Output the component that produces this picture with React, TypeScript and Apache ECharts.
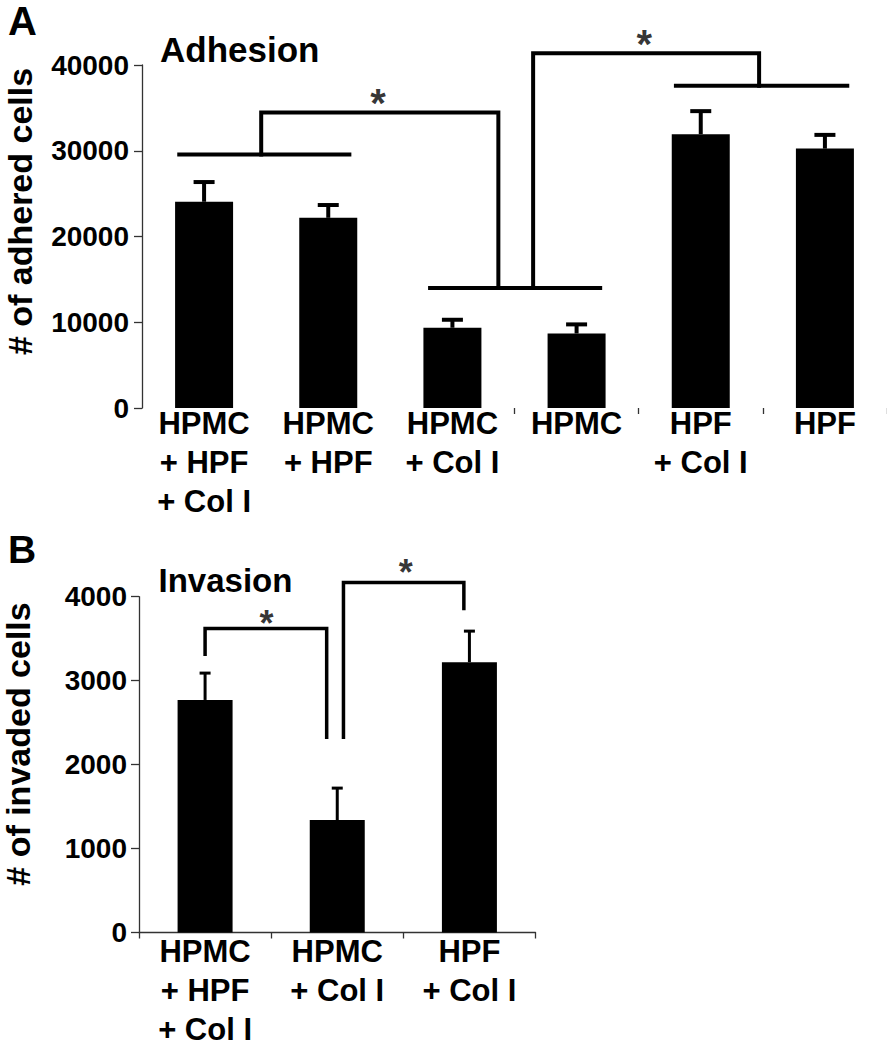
import React, { useEffect, useRef } from "react";
import * as echarts from "echarts";

// ---------- Panel A: Adhesion ----------
const adhesionCategories = [
  "HPMC\n+ HPF\n+ Col I",
  "HPMC\n+ HPF",
  "HPMC\n+ Col I",
  "HPMC",
  "HPF\n+ Col I",
  "HPF",
];
const adhesionMeans = [24050, 22180, 9360, 8690, 31930, 30250];
const adhesionErrorTops = [26350, 23670, 10290, 9750, 34620, 31850];
const adhesionTicks = [0, 10000, 20000, 30000, 40000];
// significance brackets: [category position, value]
const adhesionBrackets = [
  [[-0.2, 29550], [1.17, 29550]],
  [[0.46, 29550], [0.46, 34460], [2.37, 34460], [2.37, 14000]],
  [[1.82, 14000], [3.19, 14000]],
  [[2.65, 14000], [2.65, 41370], [4.47, 41370], [4.47, 37580]],
  [[3.8, 37580], [5.18, 37580]],
];
const adhesionStars = [[1.4, 36530], [3.545, 43350]];

// ---------- Panel B: Invasion ----------
const invasionCategories = ["HPMC\n+ HPF\n+ Col I", "HPMC\n+ Col I", "HPF\n+ Col I"];
const invasionMeans = [2770, 1340, 3220];
const invasionErrorTops = [3090, 1720, 3590];
const invasionTicks = [0, 1000, 2000, 3000, 4000];
const invasionBrackets = [
  [[0, 3315], [0, 3620], [0.92, 3620], [0.92, 2326]],
  [[1.047, 2326], [1.047, 4170], [1.958, 4170], [1.958, 3860]],
];
const invasionStars = [[0.465, 3770], [1.518, 4372]];

const SANS = "Liberation Sans, Arial, Helvetica, sans-serif";

function errorSeries(xIdx: number, yIdx: number, means: number[], tops: number[], cap: number, lw: number) {
  return {
    type: "custom",
    xAxisIndex: xIdx,
    yAxisIndex: yIdx,
    silent: true,
    z: 4,
    data: means.map((m, i) => [i, m, tops[i]]),
    encode: { x: 0, y: [1, 2] },
    renderItem: (_params: any, api: any) => {
      const base = api.coord([api.value(0), api.value(1)]);
      const top = api.coord([api.value(0), api.value(2)]);
      return {
        type: "group",
        children: [
          {
            type: "line",
            shape: { x1: base[0], y1: base[1], x2: top[0], y2: top[1] },
            style: { stroke: "#000", lineWidth: lw },
          },
          {
            type: "line",
            shape: { x1: top[0] - cap / 2, y1: top[1], x2: top[0] + cap / 2, y2: top[1] },
            style: { stroke: "#000", lineWidth: lw },
          },
        ],
      };
    },
  };
}

function bracketSeries(xIdx: number, yIdx: number, brackets: number[][][], lw: number) {
  return brackets.map((pts) => ({
    type: "line",
    xAxisIndex: xIdx,
    yAxisIndex: yIdx,
    data: pts,
    symbol: "none",
    silent: true,
    clip: false,
    z: 5,
    lineStyle: { color: "#000", width: lw, join: "miter", cap: "square" },
  }));
}

function starSeries(xIdx: number, yIdx: number, stars: number[][], size: number) {
  return {
    type: "scatter",
    xAxisIndex: xIdx,
    yAxisIndex: yIdx,
    data: stars,
    symbolSize: 1,
    clip: false,
    silent: true,
    z: 6,
    itemStyle: { color: "rgba(0,0,0,0)" },
    label: {
      show: true,
      position: "inside",
      formatter: "*",
      fontFamily: SANS,
      fontWeight: "bold",
      fontSize: size,
      color: "#000",
      offset: [0, size * 0.2],
    },
  };
}

function valueAxis(gridIndex: number, ticks: number[], margin: number) {
  return {
    type: "value",
    gridIndex,
    min: ticks[0],
    max: ticks[ticks.length - 1],
    interval: ticks[1] - ticks[0],
    axisLine: { show: true, onZero: false, lineStyle: { color: "#333", width: 1.3 } },
    axisTick: { show: true, length: 8, lineStyle: { color: "#333", width: 1.3 } },
    splitLine: { show: false },
    axisLabel: {
      margin,
      fontFamily: SANS,
      fontWeight: "bold",
      fontSize: 28,
      color: "#000",
      formatter: (v: number) => String(v),
    },
  };
}

function catAxis(gridIndex: number, cats: string[], showLine: boolean, tickFilter: (i: number) => boolean, margin: number) {
  return {
    type: "category",
    gridIndex,
    data: cats,
    boundaryGap: true,
    axisLine: { show: showLine, onZero: false, lineStyle: { color: "#333", width: 1.3 } },
    axisTick: {
      show: true,
      length: 6,
      interval: (i: number) => tickFilter(i),
      lineStyle: { color: "#333", width: 1.3 },
    },
    axisLabel: {
      interval: 0,
      margin,
      fontFamily: SANS,
      fontWeight: "bold",
      fontSize: 31,
      lineHeight: 39,
      color: "#000",
    },
  };
}

function posAxis(gridIndex: number, n: number) {
  return { type: "value", gridIndex, min: -0.5, max: n - 0.5, show: false };
}

export default function App() {
  const ref = useRef<HTMLDivElement>(null);
  useEffect(() => {
    if (!ref.current) return;
    const chart = echarts.init(ref.current, null, { renderer: "svg" });
    const option: any = {
      animation: false,
      backgroundColor: "#fff",
      grid: [
        { left: 142, top: 65, width: 775, height: 343 },
        { left: 139, top: 596.7, width: 396.5, height: 335.8 },
      ],
      xAxis: [
        catAxis(0, adhesionCategories, false, (i) => i >= 3, -4),
        posAxis(0, adhesionCategories.length),
        catAxis(1, invasionCategories, true, () => true, -1),
        posAxis(1, invasionCategories.length),
      ],
      yAxis: [valueAxis(0, adhesionTicks, 13), valueAxis(1, invasionTicks, 12)],
      series: [
        {
          type: "bar",
          xAxisIndex: 0,
          yAxisIndex: 0,
          data: adhesionMeans,
          barWidth: 58,
          itemStyle: { color: "#000" },
          silent: true,
          z: 3,
        },
        errorSeries(0, 0, adhesionMeans, adhesionErrorTops, 21, 4),
        ...bracketSeries(1, 0, adhesionBrackets, 4),
        starSeries(1, 0, adhesionStars, 40),
        {
          type: "bar",
          xAxisIndex: 2,
          yAxisIndex: 1,
          data: invasionMeans,
          barWidth: 55,
          itemStyle: { color: "#000" },
          silent: true,
          z: 3,
        },
        errorSeries(2, 1, invasionMeans, invasionErrorTops, 11, 3),
        ...bracketSeries(3, 1, invasionBrackets, 3.5),
        starSeries(3, 1, invasionStars, 36),
      ],
      graphic: [
        {
          type: "text",
          x: 8,
          y: 35 - 0.3465 * 40,
          style: { text: "A", fontFamily: SANS, fontWeight: "bold", fontSize: 40, fill: "#000", align: "left", verticalAlign: "middle" },
        },
        {
          type: "text",
          x: 160,
          y: 62 - 0.3465 * 35,
          style: { text: "Adhesion", fontFamily: SANS, fontWeight: "bold", fontSize: 35, fill: "#000", align: "left", verticalAlign: "middle" },
        },
        {
          type: "text",
          x: 19.5,
          y: 211.5,
          rotation: Math.PI / 2,
          style: { text: "# of adhered cells", fontFamily: SANS, fontWeight: "bold", fontSize: 34, fill: "#000", align: "center", verticalAlign: "middle" },
        },
        {
          type: "text",
          x: 8,
          y: 563 - 0.3465 * 39,
          style: { text: "B", fontFamily: SANS, fontWeight: "bold", fontSize: 39, fill: "#000", align: "left", verticalAlign: "middle" },
        },
        {
          type: "text",
          x: 158.5,
          y: 591.6 - 0.3465 * 33,
          style: { text: "Invasion", fontFamily: SANS, fontWeight: "bold", fontSize: 33, fill: "#000", align: "left", verticalAlign: "middle" },
        },
        {
          type: "text",
          x: 18,
          y: 744,
          rotation: Math.PI / 2,
          style: { text: "# of invaded cells", fontFamily: SANS, fontWeight: "bold", fontSize: 34, fill: "#000", align: "center", verticalAlign: "middle" },
        },
      ],
    };
    chart.setOption(option);
    return () => chart.dispose();
  }, []);
  return (
    <div
      ref={ref}
      style={{ position: "absolute", left: 0, top: 0, width: 887, height: 1050, background: "#fff" }}
    />
  );
}
